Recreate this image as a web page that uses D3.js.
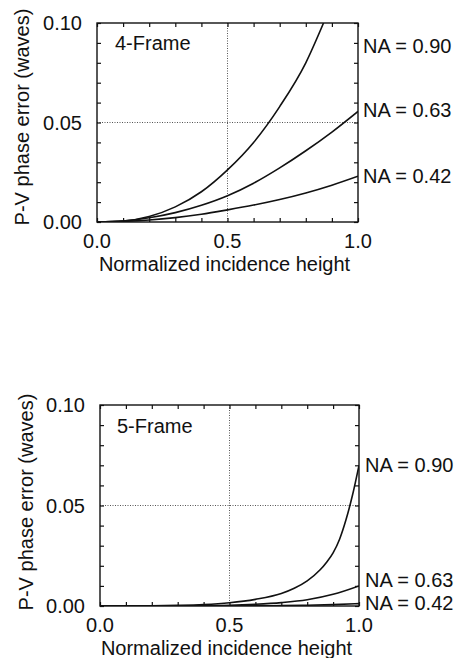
<!DOCTYPE html>
<html>
<head>
<meta charset="utf-8">
<script src="https://cdn.jsdelivr.net/npm/d3@7"></script>
<style>
  html, body { margin: 0; padding: 0; background: #fff; }
  svg { display: block; }
  text { font-family: "Liberation Sans", Arial, Helvetica, sans-serif; fill: #111; }
</style>
</head>
<body>
<svg id="chart" width="455" height="658"></svg>
<script>
// ---------- data ----------
const xTickValues = [0.0, 0.5, 1.0];
const xTickLabels = ["0.0", "0.5", "1.0"];
const yTickValues = [0.00, 0.05, 0.10];
const yTickLabels = ["0.00", "0.05", "0.10"];
const xTitle = "Normalized incidence height";
const yTitle = "P-V phase error (waves)";
const panelTitles = ["4-Frame", "5-Frame"];
const seriesNames = ["NA = 0.90", "NA = 0.63", "NA = 0.42"];

// 4-Frame
const f4_na090_x = [0, 0.1, 0.2, 0.3, 0.4, 0.5, 0.6, 0.7, 0.8, 0.868];
const f4_na090_y = [0, 0.0005, 0.0028, 0.0076, 0.0152, 0.0262, 0.0400, 0.0580, 0.0800, 0.100];
const f4_na063_x = [0, 0.1, 0.2, 0.3, 0.4, 0.5, 0.6, 0.7, 0.8, 0.9, 1.0];
const f4_na063_y = [0, 0.0005, 0.0021, 0.0047, 0.0084, 0.0132, 0.0195, 0.0272, 0.0358, 0.0452, 0.0556];
const f4_na042_x = [0, 0.1, 0.2, 0.3, 0.4, 0.5, 0.6, 0.7, 0.8, 0.9, 1.0];
const f4_na042_y = [0, 0.0003, 0.0010, 0.0022, 0.0039, 0.0061, 0.0085, 0.0113, 0.0146, 0.0185, 0.0230];

// 5-Frame
const f5_na090_x = [0, 0.2, 0.3, 0.4, 0.5, 0.6, 0.7, 0.75, 0.8, 0.85, 0.875, 0.9, 0.925, 0.95, 0.975, 1.0];
const f5_na090_y = [0, 0.0001, 0.0003, 0.0007, 0.0016, 0.0033, 0.0062, 0.0088, 0.0125, 0.0180, 0.0218, 0.0264, 0.0332, 0.0430, 0.0552, 0.0700];
const f5_na063_x = [0, 0.2, 0.3, 0.4, 0.5, 0.6, 0.7, 0.8, 0.9, 1.0];
const f5_na063_y = [0, 0, 0.0001, 0.0002, 0.0004, 0.0009, 0.0017, 0.0031, 0.0058, 0.0100];
const f5_na042_x = [0, 0.5, 0.6, 0.7, 0.8, 0.9, 1.0];
const f5_na042_y = [0, 0.0001, 0.0001, 0.0002, 0.0004, 0.0007, 0.0012];

// ---------- layout ----------
const panels = [
  {
    title: panelTitles[0],
    left: 97, right: 358, top: 23, bottom: 222,
    series: [[f4_na090_x, f4_na090_y], [f4_na063_x, f4_na063_y], [f4_na042_x, f4_na042_y]],
    labelX: 363, labelY: [46, 110, 176],
    titleX: 115, titleY: 43,
    yTitleX: 22, yTitleY: 117,
    xTickBase: 248, xTitleBase: 271
  },
  {
    title: panelTitles[1],
    left: 100, right: 359, top: 405, bottom: 606,
    series: [[f5_na090_x, f5_na090_y], [f5_na063_x, f5_na063_y], [f5_na042_x, f5_na042_y]],
    labelX: 365, labelY: [465, 580, 603],
    titleX: 117, titleY: 426,
    yTitleX: 26, yTitleY: 502,
    xTickBase: 632, xTitleBase: 655
  }
];

const svg = d3.select("#chart");
const FS = 20;

panels.forEach((p, pi) => {
  const x = d3.scaleLinear().domain([0, 1]).range([p.left, p.right]);
  const y = d3.scaleLinear().domain([0, 0.10]).range([p.bottom, p.top]);
  const g = svg.append("g");

  const clipId = "clip" + pi;
  svg.append("clipPath").attr("id", clipId)
    .append("rect").attr("x", p.left).attr("y", p.top)
    .attr("width", p.right - p.left).attr("height", p.bottom - p.top);

  // dotted grid lines at 0.5 and 0.05
  g.append("line")
    .attr("x1", x(0.5)).attr("x2", x(0.5)).attr("y1", p.top).attr("y2", p.bottom)
    .attr("stroke", "#555").attr("stroke-width", 1).attr("stroke-dasharray", "1,1.5");
  g.append("line")
    .attr("x1", p.left).attr("x2", p.right).attr("y1", y(0.05)).attr("y2", y(0.05))
    .attr("stroke", "#555").attr("stroke-width", 1).attr("stroke-dasharray", "1,1.5");

  // inward ticks on all four sides
  const tickLen = 4;
  const xMinor = d3.range(0, 11).map(d => d / 10);
  const yMinor = d3.range(0, 11).map(d => d / 100);
  const axB = g.append("g").attr("transform", `translate(0,${p.bottom})`)
    .call(d3.axisTop(x).tickValues(xMinor).tickSize(tickLen).tickFormat(""));
  const axT = g.append("g").attr("transform", `translate(0,${p.top})`)
    .call(d3.axisBottom(x).tickValues(xMinor).tickSize(tickLen).tickFormat(""));
  const axL = g.append("g").attr("transform", `translate(${p.left},0)`)
    .call(d3.axisRight(y).tickValues(yMinor).tickSize(tickLen).tickFormat(""));
  const axR = g.append("g").attr("transform", `translate(${p.right},0)`)
    .call(d3.axisLeft(y).tickValues(yMinor).tickSize(tickLen).tickFormat(""));
  [axB, axT, axL, axR].forEach(a => {
    a.select(".domain").remove();
    a.selectAll("line").attr("stroke", "#111").attr("stroke-width", 1.2);
  });

  // frame
  g.append("rect")
    .attr("x", p.left).attr("y", p.top)
    .attr("width", p.right - p.left).attr("height", p.bottom - p.top)
    .attr("fill", "none").attr("stroke", "#111").attr("stroke-width", 1.4);

  // tick labels
  g.selectAll(".xl").data(xTickValues).enter().append("text")
    .attr("x", d => x(d)).attr("y", p.xTickBase)
    .attr("text-anchor", "middle").attr("font-size", FS)
    .text((d, i) => xTickLabels[i]);
  g.selectAll(".yl").data(yTickValues).enter().append("text")
    .attr("x", p.left - 15).attr("y", d => y(d)).attr("dy", "0.36em")
    .attr("text-anchor", "end").attr("font-size", FS)
    .text((d, i) => yTickLabels[i]);

  // axis titles
  g.append("text")
    .attr("x", (p.left + p.right) / 2 - 3).attr("y", p.xTitleBase)
    .attr("text-anchor", "middle").attr("font-size", FS)
    .text(xTitle);
  g.append("text")
    .attr("transform", `translate(${p.yTitleX},${p.yTitleY}) rotate(-90)`)
    .attr("dy", "0.36em")
    .attr("text-anchor", "middle").attr("font-size", FS)
    .text(yTitle);

  // panel title
  g.append("text")
    .attr("x", p.titleX).attr("y", p.titleY).attr("dy", "0.36em")
    .attr("font-size", FS).text(p.title);

  // curves
  const line = d3.line().x(d => x(d[0])).y(d => y(d[1])).curve(d3.curveMonotoneX);
  p.series.forEach(([xs, ys]) => {
    const pts = xs.map((v, i) => [v, ys[i]]);
    g.append("path").datum(pts)
      .attr("clip-path", `url(#${clipId})`)
      .attr("d", line)
      .attr("fill", "none").attr("stroke", "#111").attr("stroke-width", 1.6);
  });

  // series labels
  seriesNames.forEach((n, i) => {
    g.append("text")
      .attr("x", p.labelX).attr("y", p.labelY[i]).attr("dy", "0.36em")
      .attr("font-size", FS).text(n);
  });
});
</script>
</body>
</html>
